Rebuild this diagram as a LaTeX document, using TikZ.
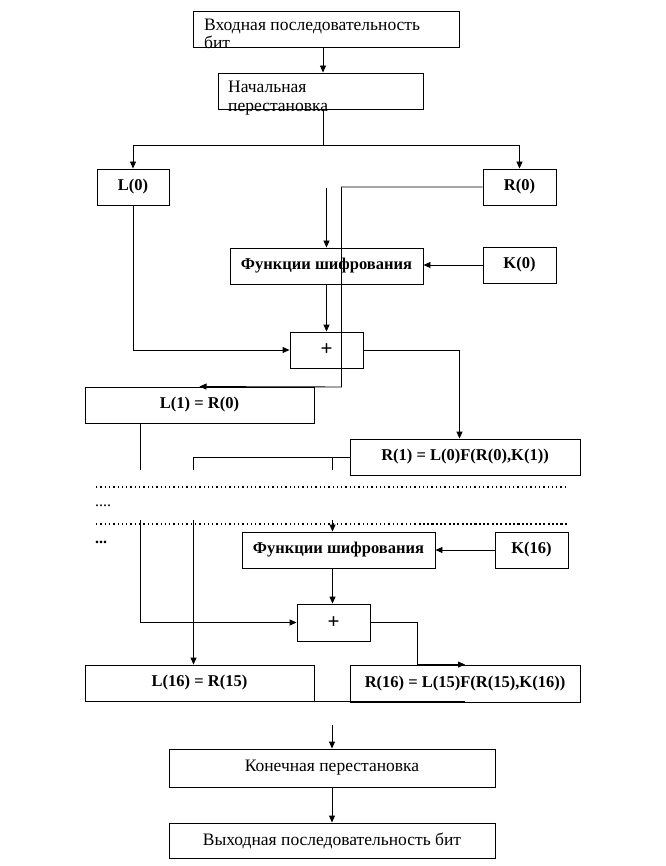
\documentclass[tikz,border=0pt]{standalone}
\usepackage{fontspec}
\setmainfont{Liberation Serif}
\usetikzlibrary{arrows.meta}
\begin{document}
\begin{tikzpicture}[x=1pt,y=-1pt,
  box/.style={draw,line width=0.9pt,inner sep=0pt,minimum height=36pt,font=\bfseries\fontsize{16.5}{18}\selectfont},
  nbox/.style={box,font=\fontsize{17.5}{18}\selectfont},
  pbox/.style={box,font=\bfseries\fontsize{21}{21}\selectfont},
  lbl/.style={inner sep=0pt,font=\fontsize{17.5}{18}\selectfont},
  ln/.style={line width=0.9pt},
  arr/.style={line width=0.9pt,-{Triangle[length=7pt,width=6pt]}},
  dotl/.style={line width=1.3pt,dash pattern=on 1.3pt off 3pt}]
\useasboundingbox (0,0) rectangle (665,866);
% boxes
\node[box,minimum width=266pt] (in) at (326,29) {};
\node[lbl,anchor=north west,align=left] (intext) at (204,19) {Входная последовательность\\бит};
\node[box,minimum width=205pt] (perm) at (320.5,91) {};
\node[lbl,anchor=north west,align=left,font=\fontsize{17.5}{19}\selectfont] (permtext) at (228,81) {Начальная\\перестановка};
\node[box,minimum width=72pt] (L0) at (133,187) {L(0)};
\node[box,minimum width=73pt] (R0) at (519.5,187) {R(0)};
\node[box,minimum width=193pt] (F1) at (326.5,266) {Функции шифрования};
\node[box,minimum width=73pt] (K0) at (519.5,265) {K(0)};
\node[pbox,minimum width=73pt] (P1) at (326.5,350) {+};
\node[box,minimum width=229pt] (L1) at (199.5,405) {L(1) = R(0)};
\node[box,minimum width=230pt] (R1) at (465,457) {R(1) = L(0)F(R(0),K(1))};
\node[box,minimum width=193pt] (F2) at (338.5,550) {Функции шифрования};
\node[box,minimum width=73pt] (K16) at (531.5,550) {K(16)};
\node[pbox,minimum width=73pt,minimum height=37pt] (P2) at (333.5,622.5) {+};
\node[box,minimum width=229pt] (L16) at (199.5,683) {L(16) = R(15)};
\node[box,minimum width=230pt,minimum height=37pt] (R16) at (465,683.5) {R(16) = L(15)F(R(15),K(16))};
\node[nbox,minimum width=326pt,minimum height=38pt] (fin) at (332,768) {Конечная перестановка};
\node[nbox,minimum width=326pt,minimum height=35pt] (out) at (332,840.5) {Выходная последовательность бит};
% helper coordinates
\coordinate (cA) at (323,0);
\coordinate (split) at (323,145);
\coordinate (cB) at (341.5,387);
\coordinate (f1in) at (326.5,188);
\coordinate (c459) at (459.5,0);
\coordinate (c140) at (140.5,0);
\coordinate (c193) at (193.5,0);
\coordinate (c332) at (332.5,0);
\coordinate (c417) at (417.5,0);
\coordinate (gt) at (0,470);
\coordinate (gb) at (0,520);
\coordinate (finin) at (332,725);
% connectors
\draw[arr] (in.south -| cA) -- (perm.north -| cA);
\draw[ln] (perm.south -| cA) -- (split);
\draw[arr] (split) -| (L0.north);
\draw[arr] (split) -| (R0.north);
\draw[arr] (R0.west) -| (cB) -- (L1.north);
\draw[arr] (f1in) -- (F1.north);
\draw[arr] (K0.west) -- (K0.west -| F1.east);
\draw[arr] (F1.south) -- (P1.north);
\draw[arr] (L0.south) |- (P1.west);
\draw[arr] (P1.east) -| (R1.north -| c459);
\draw[ln] (L1.south -| c140) -- (c140 |- gt);
\draw[arr] (c140 |- gb) |- (P2.west);
\draw[ln] (R1.west) -| (c193 |- gt);
\draw[ln] (R1.west -| c332) -- (c332 |- gt);
\draw[arr] (c193 |- gb) -- (L16.north -| c193);
\draw[arr] (c332 |- gb) -- (F2.north -| c332);
\draw[arr] (K16.west) -- (F2.east);
\draw[arr] (F2.south -| c332) -- (P2.north -| c332);
\draw[arr] (P2.east) -| (c417 |- R16.north) -- (R16.north);
\draw[ln] (L16.south) -- (L16.south -| R16.south);
\draw[arr] (finin) -- (fin.north);
\draw[arr] (fin.south) -- (out.north);
% dotted separator
\coordinate (d1a) at (96,487);
\coordinate (d1b) at (567,487);
\coordinate (d2a) at (96,524);
\coordinate (d2b) at (567,524);
\coordinate (d2m) at (415,524);
\draw[dotl] (d1a) -- (d1b);
\draw[dotl] (d2a) -- (d2b);
\draw[dotl,line width=2pt] (d2m) -- (d2b);
\node[lbl,anchor=base west,font=\fontsize{16}{18}\selectfont] (e1) at (95,506) {....};
\node[lbl,anchor=base west,font=\bfseries\fontsize{16}{18}\selectfont] (e2) at (95,543) {...};
\end{tikzpicture}
\end{document}
